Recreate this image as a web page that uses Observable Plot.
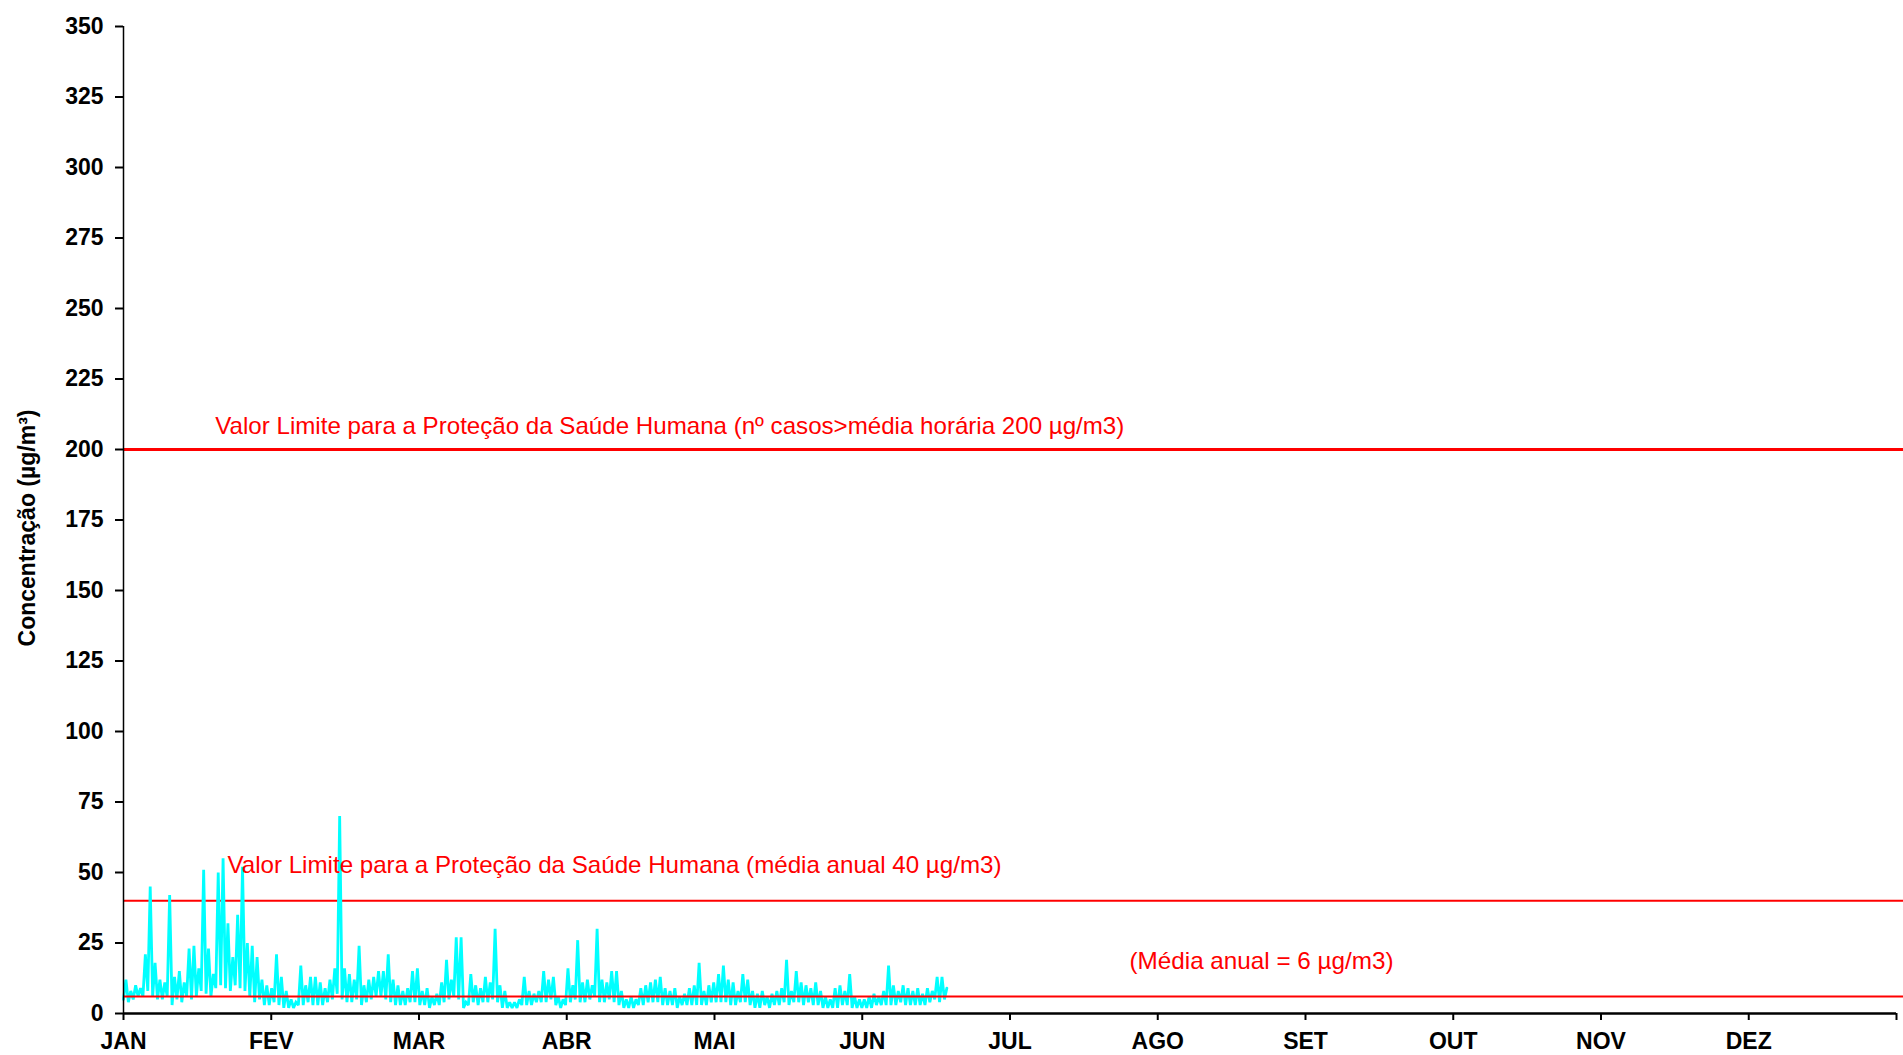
<!DOCTYPE html>
<html>
<head>
<meta charset="utf-8">
<script src="https://cdn.jsdelivr.net/npm/d3@7"></script>
<script src="https://cdn.jsdelivr.net/npm/@observablehq/plot@0.6"></script>
<style>
  html, body { margin: 0; padding: 0; background: #fff; }
  #chart svg { display: block; }
</style>
</head>
<body>
<div id="chart"></div>
<script>
// Month tick labels (equal spacing, 12 months)
const months = ["JAN","FEV","MAR","ABR","MAI","JUN","JUL","AGO","SET","OUT","NOV","DEZ"];
const yTicks = [0,25,50,75,100,125,150,175,200,225,250,275,300,325,350];

// Limit values (µg/m3)
const limitHourly = 200;
const limitAnnual = 40;
const annualMean = 6;

const labelHourly = "Valor Limite para a Proteção da Saúde Humana (nº casos>média horária 200 µg/m3)";
const labelAnnual = "Valor Limite para a Proteção da Saúde Humana (média anual 40 µg/m3)";
const labelMean = "(Média anual = 6 µg/m3)";
const yTitle = "Concentração (µg/m³)";

// Daily envelope of the hourly concentrations (days 0..169 from 1 Jan)
const dailyLow = [
  5,4,5,6,6,8,6,5,5,6, 3,5,4,6,5,6,8,7,6,9, 10,9,8,10,9,8,6,4,5,3,
  3,4,3,2,2,2,3,3,4,3, 3,3,4,5,7,5,4,4,5,3, 4,5,6,6,5,4,3,3,3,4,
  4,3,3,2,3,3,4,5,6,5, 2,3,4,3,4,4,5,4,2,2, 2,2,3,3,3,4,4,4,5,3,
  2,3,4,5,4,4,5,6,4,4, 5,4,3,2,2,2,3,3,4,4, 4,3,3,3,2,3,3,3,3,3,
  3,4,4,4,4,3,3,4,4,3, 2,2,3,2,3,3,4,3,4,4, 3,4,3,3,2,2,2,2,3,3,
  2,2,2,2,2,3,3,3,3,3, 4,3,3,3,3,3,4,5,4,5
];
const dailyHigh = [
  12,8,10,9,21,45,18,12,11,42, 13,15,11,23,24,16,51,23,14,50, 55,32,20,35,52,25,24,20,12,10,
  9,21,13,8,5,4,17,10,13,13, 11,9,12,16,70,16,14,12,24,10, 12,13,15,15,21,12,10,8,9,15,
  16,8,9,6,7,11,19,12,27,27, 4,14,10,9,13,11,30,10,8,4, 4,5,13,8,7,8,15,12,13,6,
  5,16,10,26,11,12,10,30,12,11, 15,15,8,5,6,5,9,10,11,12, 13,9,8,9,6,7,9,10,18,8,
  10,11,14,17,12,11,8,14,12,8, 7,8,6,7,8,9,19,8,15,11, 10,9,11,8,6,5,9,10,8,14,
  6,5,5,6,7,6,8,17,10,8, 10,9,8,9,7,9,8,13,13,9
];

// Table for the line mark: each day contributes its low then its high
const series = [];
dailyLow.forEach((lo, d) => {
  series.push({t: d, v: lo});
  series.push({t: d + 0.5, v: dailyHigh[d]});
});

const daysInYear = 365;
const monthTicks = months.map((m, i) => i * daysInYear / 12).concat([daysInYear]);
const font = "'Liberation Sans', Arial, Helvetica, sans-serif";

const chart = Plot.plot({
  width: 1903,
  height: 1055,
  marginLeft: 123,
  marginRight: 7,
  marginTop: 26,
  marginBottom: 42,
  x: {domain: [0, daysInYear], axis: null},
  y: {domain: [0, 350], axis: null},
  style: {fontFamily: font, background: "#fff", color: "#000"},
  marks: [
    Plot.axisY({
      ticks: yTicks, tickSize: 8, tickPadding: 12, tickFormat: d => String(d),
      label: null, fontSize: 23, fontWeight: "bold", strokeWidth: 2
    }),
    Plot.axisX({
      ticks: monthTicks, tickSize: 7, tickPadding: 12,
      tickFormat: d => months[Math.round(d / (daysInYear / 12))] ?? "",
      label: null, fontSize: 23, fontWeight: "bold", strokeWidth: 2
    }),
    Plot.ruleY([limitHourly], {x1: 0, x2: 366.5, stroke: "#ff0000", strokeWidth: 3}),
    Plot.ruleY([limitAnnual], {x1: 0, x2: 366.5, stroke: "#ff0000", strokeWidth: 2}),
    Plot.line(series, {x: "t", y: "v", stroke: "#00ffff", strokeWidth: 2.8, strokeLinejoin: "miter", strokeMiterlimit: 2}),
    Plot.ruleY([annualMean], {x1: 0, x2: 366.5, stroke: "#ff0000", strokeWidth: 2}),
    Plot.ruleX([0], {stroke: "#000", strokeWidth: 1.5}),
    Plot.ruleY([0], {stroke: "#000", strokeWidth: 2.5}),
    Plot.text([labelHourly], {x: 18.9, y: limitHourly, dy: -16, textAnchor: "start", lineAnchor: "bottom",
      fill: "#ff0000", fontSize: 24, className: "lbl-hourly"}),
    Plot.text([labelAnnual], {x: 21.4, y: limitAnnual, dy: -28, textAnchor: "start", lineAnchor: "bottom",
      fill: "#ff0000", fontSize: 24, className: "lbl-annual"}),
    Plot.text([labelMean], {x: 207.1, y: annualMean, dy: -28, textAnchor: "start", lineAnchor: "bottom",
      fill: "#ff0000", fontSize: 24, className: "lbl-mean"}),
    Plot.text([yTitle], {frameAnchor: "left", textAnchor: "middle", dx: -96, dy: 8, rotate: -90, fontSize: 23,
      fontWeight: "bold", fill: "#000"})
  ]
});

document.getElementById("chart").appendChild(chart);

// Fit the red annotations to the widths seen in the reference
const fit = [["lbl-hourly", 909], ["lbl-annual", 774], ["lbl-mean", 264]];
for (const [cls, w] of fit) {
  chart.querySelectorAll("g." + cls + " text").forEach(t => {
    t.setAttribute("textLength", w);
    t.setAttribute("lengthAdjust", "spacingAndGlyphs");
  });
}
</script>
</body>
</html>
